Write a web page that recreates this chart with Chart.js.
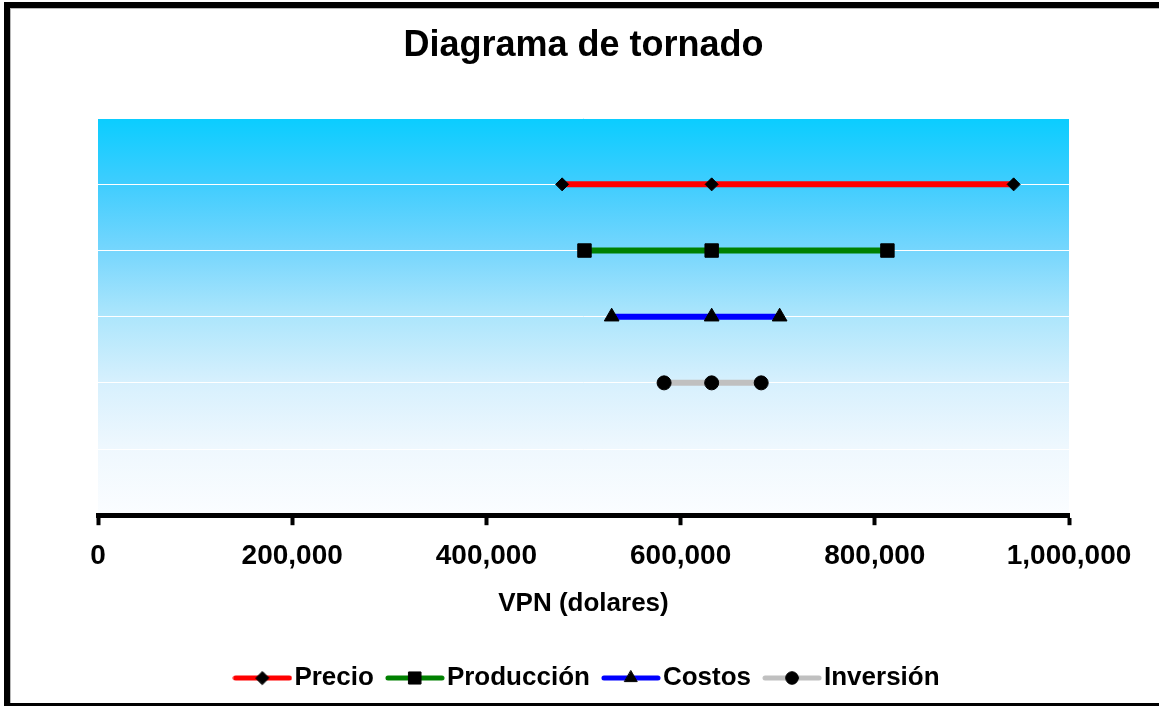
<!DOCTYPE html>
<html>
<head>
<meta charset="utf-8">
<script src="https://cdn.jsdelivr.net/npm/chart.js@4.4.1/dist/chart.umd.min.js"></script>
<style>
  html, body { margin: 0; padding: 0; background: #fff; overflow: hidden; }
  .frame {
    position: absolute; left: 4px; top: 2px;
    width: 1160px; height: 695px;
    border-left: 6px solid #000; border-top: 6px solid #000; border-bottom: 3px solid #000;
    background: #fff;
    box-shadow: inset 1px 1px 0 #b8b8b8;
  }
  .chart-box { position: absolute; left: 0; top: 0; width: 1149px; height: 695px; }
</style>
</head>
<body>
<div class="frame">
  <div class="chart-box"><canvas id="tornado"></canvas></div>
</div>
<script>
// Datos
const variables = ['Precio', 'Producción', 'Costos', 'Inversión'];
const vpnBase = 632000;
const vpnBajo = [478000, 501000, 529000, 583000];
const vpnAlto = [943000, 813000, 702000, 683000];
const filas = [5, 4, 3, 2];
const colores = ['#ff0000', '#008000', '#0000ff', '#c0c0c0'];
const marcadores = ['rectRot', 'rect', 'triangle', 'circle'];
const radios = [6.5, 9.5, 8.5, 7];
const xTicks = [0, 200000, 400000, 600000, 800000, 1000000];

const fuente = "'Liberation Sans', Arial, sans-serif";

// Icono de leyenda: linea con marcador al centro
function makeIcon(i) {
  const c = document.createElement('canvas');
  c.width = 60;
  c.height = 20;
  const ctx = c.getContext('2d');
  ctx.strokeStyle = colores[i];
  ctx.lineWidth = 5;
  ctx.lineCap = 'round';
  ctx.beginPath();
  ctx.moveTo(3, 10);
  ctx.lineTo(57, 10);
  ctx.stroke();
  ctx.fillStyle = '#000';
  ctx.strokeStyle = '#000';
  ctx.lineWidth = 1;
  const escala = [1, 0.9, 0.85, 0.9][i];
  Chart.helpers.drawPoint(ctx, { pointStyle: marcadores[i], radius: radios[i] * escala, rotation: 0, borderWidth: 1 }, 30, 10);
  return c;
}

const datasets = variables.map((nombre, i) => ({
  label: nombre,
  data: [
    { x: vpnBajo[i], y: filas[i] },
    { x: vpnBase, y: filas[i] },
    { x: vpnAlto[i], y: filas[i] },
  ],
  showLine: true,
  borderColor: colores[i],
  borderWidth: 6,
  pointStyle: marcadores[i],
  pointRadius: radios[i],
  pointHoverRadius: radios[i],
  pointBackgroundColor: '#000',
  pointBorderColor: '#000',
  pointBorderWidth: 1,
}));

// Fondo degradado del area de trazado
const fondoPlugin = {
  id: 'fondo',
  beforeDraw(chart) {
    const { ctx, chartArea: a } = chart;
    const g = ctx.createLinearGradient(0, a.top, 0, a.bottom);
    g.addColorStop(0, '#0acdff');
    g.addColorStop(0.165, '#3fcdfe');
    g.addColorStop(0.333, '#76d6fd');
    g.addColorStop(0.5, '#ade6fc');
    g.addColorStop(0.667, '#d7f0fd');
    g.addColorStop(0.833, '#eff8fe');
    g.addColorStop(1, '#fbfdff');
    ctx.save();
    ctx.fillStyle = g;
    ctx.fillRect(a.left, a.top, a.right - a.left, a.bottom - a.top);
    ctx.restore();
  },
  // la leyenda del original queda algo a la derecha del centro
  afterLayout(chart) {
    if (chart.legend) {
      chart.legend.left += 8;
      chart.legend.right += 8;
    }
  },
};

const iconos = variables.map((_, i) => makeIcon(i));

new Chart(document.getElementById('tornado').getContext('2d'), {
  type: 'scatter',
  data: { datasets },
  plugins: [fondoPlugin],
  options: {
    responsive: true,
    maintainAspectRatio: false,
    animation: false,
    layout: { padding: { left: 88, right: 90, top: 0, bottom: 2 } },
    scales: {
      x: {
        type: 'linear',
        min: 0,
        max: 1000000,
        afterBuildTicks: (scale) => { scale.ticks = xTicks.map((v) => ({ value: v })); },
        ticks: {
          color: '#000',
          padding: 14,
          font: { family: fuente, size: 28, weight: 'bold' },
          callback: (v) => Number(v).toLocaleString('en-US'),
        },
        grid: {
          drawOnChartArea: false,
          drawTicks: true,
          tickLength: 10,
          tickWidth: 4,
          tickColor: '#000',
        },
        border: { display: true, color: '#000', width: 5 },
        title: {
          display: true,
          text: 'VPN (dolares)',
          color: '#000',
          font: { family: fuente, size: 26, weight: 'bold' },
          padding: { top: 1, bottom: 24 },
        },
      },
      y: {
        min: 0,
        max: 6,
        ticks: { display: false, stepSize: 1 },
        grid: { color: '#ffffff', lineWidth: 1, drawTicks: false },
        border: { display: false },
      },
    },
    plugins: {
      title: {
        display: true,
        text: 'Diagrama de tornado',
        color: '#000',
        font: { family: fuente, size: 36, weight: 'bold' },
        padding: { top: 16, bottom: 51 },
      },
      legend: {
        position: 'bottom',
        labels: {
          color: '#000',
          font: { family: fuente, size: 26, weight: 'bold' },
          usePointStyle: true,
          pointStyleWidth: 38,
          padding: 22,
          generateLabels: () => variables.map((nombre, i) => ({
            text: nombre,
            pointStyle: iconos[i],
            fillStyle: colores[i],
            strokeStyle: colores[i],
            lineWidth: 0,
            hidden: false,
            datasetIndex: i,
          })),
        },
      },
      tooltip: { enabled: false },
    },
  },
});
</script>
</body>
</html>
